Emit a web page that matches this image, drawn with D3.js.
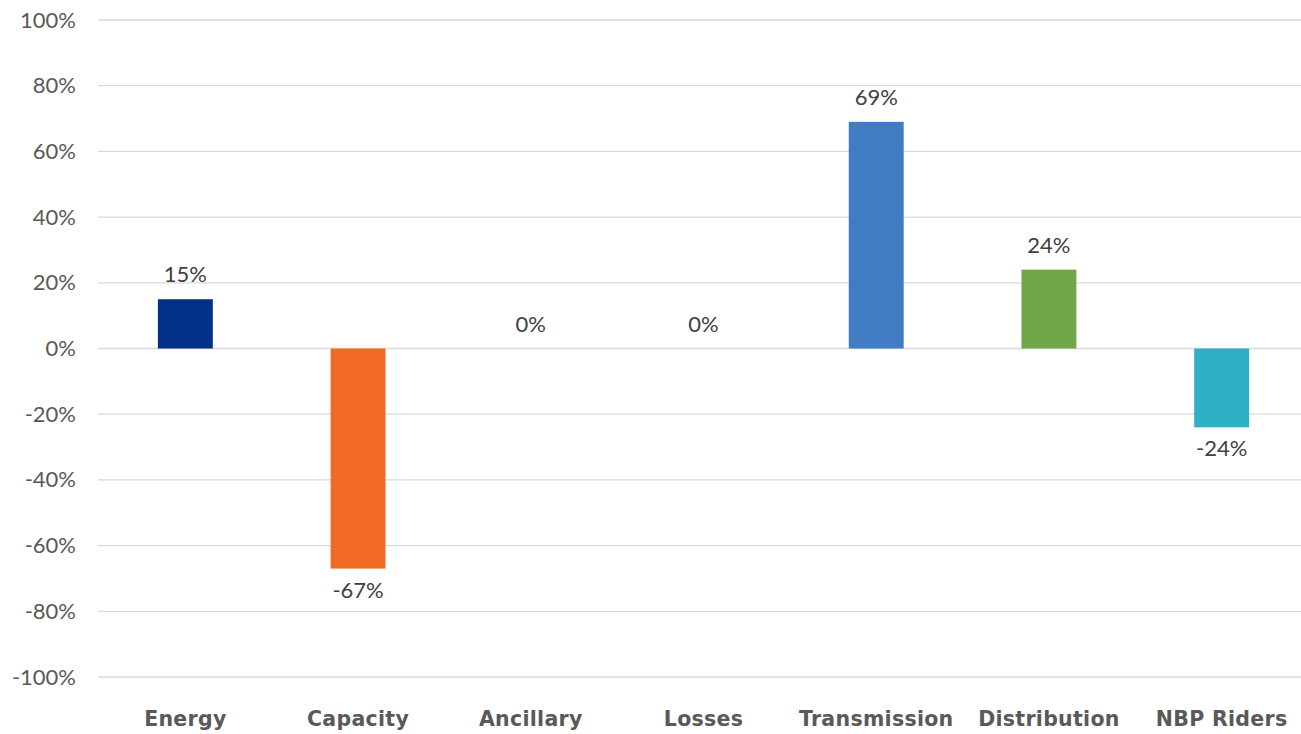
<!DOCTYPE html>
<html>
<head>
<meta charset="utf-8">
<script src="https://cdn.jsdelivr.net/npm/d3@7"></script>
<style>
  html, body { margin: 0; padding: 0; background: #fff; }
  svg text { font-family: "Lato", "Open Sans", sans-serif; }
</style>
</head>
<body>
<svg id="chart" width="1301" height="734"></svg>
<script>
// Change by rate component
const categories = ["Energy", "Capacity", "Ancillary", "Losses", "Transmission", "Distribution", "NBP Riders"];
const values = [15, -67, 0, 0, 69, 24, -24];
const colors = ["#003087", "#F26B26", "#7F7F7F", "#7F7F7F", "#3F7CC3", "#70A74B", "#30B0C7"];
const yTicks = [-100, -80, -60, -40, -20, 0, 20, 40, 60, 80, 100];

const svg = d3.select("#chart");
const width = 1301, height = 734;
const gridLeft = 98;

const x = d3.scaleBand()
  .domain(categories)
  .range([99, 1308])
  .paddingInner(0.682)
  .paddingOuter(0.341);

const y = d3.scaleLinear()
  .domain([-100, 100])
  .range([677, 20]);

// Horizontal gridlines
svg.append("g")
  .selectAll("line")
  .data(yTicks)
  .join("line")
  .attr("x1", gridLeft)
  .attr("x2", width)
  .attr("y1", d => y(d))
  .attr("y2", d => y(d))
  .attr("stroke", "#D9D9D9")
  .attr("stroke-width", 1.3);

// Y axis labels
const yAxis = d3.axisLeft(y)
  .tickValues(yTicks)
  .tickFormat(d => d + "%")
  .tickSize(0)
  .tickPadding(22);
const gy = svg.append("g")
  .attr("transform", `translate(${gridLeft},0)`)
  .call(yAxis);
gy.select(".domain").remove();
gy.selectAll("text")
  .attr("fill", "#595959")
  .style("font-size", "22px");

// Bars
svg.append("g")
  .selectAll("rect")
  .data(categories)
  .join("rect")
  .attr("x", d => x(d))
  .attr("width", x.bandwidth())
  .attr("y", (d, i) => y(Math.max(0, values[i])))
  .attr("height", (d, i) => Math.abs(y(values[i]) - y(0)))
  .attr("fill", (d, i) => colors[i]);

// Value labels
svg.append("g")
  .selectAll("text")
  .data(categories)
  .join("text")
  .attr("x", d => x(d) + x.bandwidth() / 2)
  .attr("y", (d, i) => values[i] < 0 ? y(values[i]) + 29 : y(values[i]) - 17)
  .attr("text-anchor", "middle")
  .attr("fill", "#404040")
  .style("font-size", "22px")
  .text((d, i) => values[i] + "%");

// Category labels
const xAxis = d3.axisBottom(x).tickSize(0).tickPadding(0);
const gx = svg.append("g")
  .attr("transform", `translate(0,726)`)
  .call(xAxis);
gx.select(".domain").remove();
gx.selectAll("text")
  .attr("dy", 0)
  .attr("fill", "#595959")
  .style("font-family", "'DejaVu Sans', sans-serif")
  .style("font-size", "20.5px")
  .style("font-weight", "bold")
  .style("letter-spacing", "0.3px");
</script>
</body>
</html>
